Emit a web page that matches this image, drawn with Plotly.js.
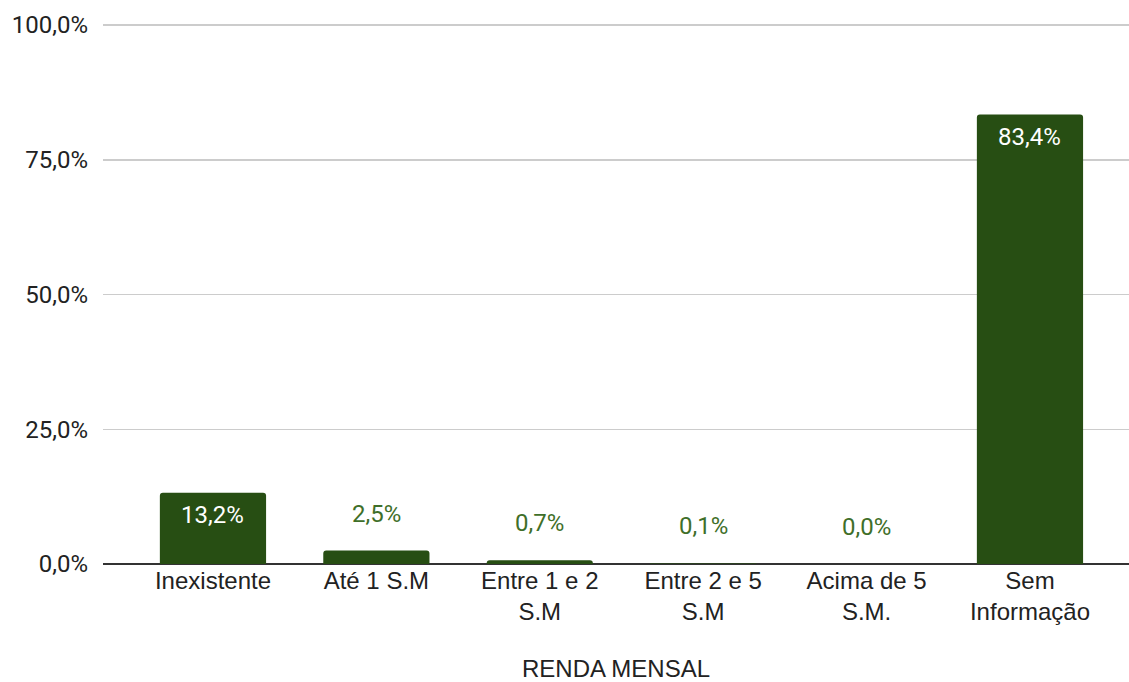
<!DOCTYPE html>
<html>
<head>
<meta charset="utf-8">
<script src="https://cdn.plot.ly/plotly-3.0.1.min.js"></script>
<style>html,body{margin:0;padding:0;background:#fff;}#chart{width:1129px;height:682px;}</style>
</head>
<body>
<div id="chart"></div>
<script>
const categories = ["Inexistente", "Até 1 S.M", "Entre 1 e 2<br>S.M", "Entre 2 e 5<br>S.M", "Acima de 5<br>S.M.", "Sem<br>Informação"];
const values = [13.2, 2.5, 0.7, 0.1, 0.0, 83.4];
const yTicks = [0, 25, 50, 75, 100];
const xTitle = "RENDA MENSAL";

const barColor = "#274e13";
const outsideLabelColor = "#3f6f29";

const annotations = values.map((v, i) => {
  const inside = v > 5;
  return {
    x: i, y: v, xref: "x", yref: "y",
    text: v.toFixed(1).replace(".", ",") + "%",
    showarrow: false,
    yanchor: "middle",
    yshift: inside ? -22 : 37,
    font: {family: "Roboto, sans-serif", size: 24, color: inside ? "#ffffff" : outsideLabelColor}
  };
});

const trace = {
  type: "bar",
  x: categories.map((c, i) => i),
  y: values,
  width: 0.65,
  marker: {color: barColor, cornerradius: 3},
  hoverinfo: "skip"
};

const layout = {
  width: 1129, height: 682,
  margin: {l: 103, r: 0, t: 24, b: 118},
  paper_bgcolor: "#fff", plot_bgcolor: "#fff",
  separators: ",.",
  showlegend: false,
  xaxis: {
    range: [-0.673, 5.606],
    tickmode: "array",
    tickvals: categories.map((c, i) => i),
    ticktext: categories,
    showgrid: false,
    zeroline: false,
    showline: false,
    ticks: "",
    tickfont: {family: "Arial, 'Liberation Sans', sans-serif", size: 24, color: "#222"},
    title: {text: xTitle, standoff: 35, font: {family: "Arial, 'Liberation Sans', sans-serif", size: 24, color: "#222"}},
    fixedrange: true
  },
  yaxis: {
    range: [0, 100.2],
    tickmode: "array",
    tickvals: yTicks,
    ticktext: yTicks.map(t => t.toFixed(1).replace(".", ",") + "%"),
    showgrid: true,
    gridcolor: "#cccccc",
    gridwidth: 1.5,
    zeroline: true,
    zerolinecolor: "#333333",
    zerolinewidth: 2,
    showline: false,
    ticks: "",
    ticklabelstandoff: 14,
    tickfont: {family: "Roboto, sans-serif", size: 24, color: "#222"},
    fixedrange: true
  },
  annotations: annotations
};

Plotly.newPlot("chart", [trace], layout, {displayModeBar: false, staticPlot: true});
</script>
</body>
</html>
